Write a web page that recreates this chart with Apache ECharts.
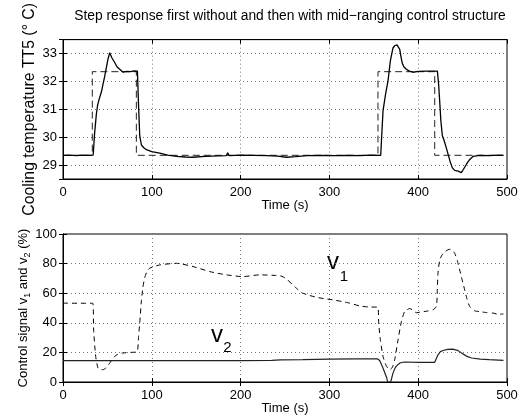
<!DOCTYPE html>
<html>
<head>
<meta charset="utf-8">
<script src="https://cdn.jsdelivr.net/npm/echarts@6/dist/echarts.min.js"></script>
<style>
    html, body { margin: 0; padding: 0; background: #fff; }
    #chart { width: 526px; height: 417px; }
</style>
</head>
<body>
<div id="chart"></div>
<script>
// time ticks shared by both plots
const timeTicks = [0, 100, 200, 300, 400, 500];

// upper plot: set point (dashed) and measured cooling temperature TT5
const setPoint = [
    [0, 29.35], [33, 29.35], [33, 32.35], [82.6, 32.35], [82.6, 29.35],
    [354.7, 29.35], [354.7, 32.35], [418.6, 32.35], [418.6, 29.35], [496, 29.35]
];
const temperature = [
    [0, 29.35], [8, 29.36], [15, 29.34], [22, 29.36], [30, 29.35], [34, 29.36],
    [35.5, 30.1], [37.6, 30.84], [39, 31.15], [40.5, 31.34], [43.2, 31.62], [47, 32.19],
    [50.7, 32.81], [52.6, 33.03], [55, 32.85], [58.2, 32.68], [61, 32.52], [63.9, 32.44],
    [67.6, 32.33], [72, 32.36], [76, 32.35], [80, 32.38], [83.8, 32.37], [85, 31.2],
    [86.4, 30.06], [88.3, 29.72], [91, 29.62], [93.9, 29.55], [100, 29.48], [108.9, 29.43],
    [118, 29.36], [127.7, 29.31], [138, 29.29], [146, 29.28], [160, 29.31], [175, 29.33],
    [184, 29.34], [185.5, 29.44], [187, 29.34], [200, 29.36], [215, 29.35], [230, 29.34],
    [242, 29.32], [251.5, 29.28], [262, 29.3], [275, 29.34], [290, 29.35], [304, 29.34],
    [305.5, 29.4], [307, 29.34], [320, 29.35], [335, 29.34], [345, 29.36], [357.8, 29.35],
    [358.5, 29.8], [360.4, 30.95], [363.4, 31.57], [366, 32.02], [368.7, 32.75], [371.6, 33.2],
    [373.5, 33.28], [376.1, 33.31], [378, 33.26], [379.2, 33.15], [380.5, 32.9], [382.2, 32.64],
    [384, 32.52], [386.7, 32.44], [390, 32.37], [394.1, 32.33], [400, 32.36], [410, 32.37],
    [421.6, 32.37], [423, 31.9], [424.2, 31.29], [425.5, 30.6], [427.2, 30.05], [429, 29.9],
    [431.8, 29.6], [436.3, 29.09], [438.5, 28.9], [441.1, 28.81], [445, 28.78], [448.6, 28.73],
    [451, 28.85], [454.3, 29.03], [458, 29.2], [461.7, 29.31], [469.3, 29.35], [480, 29.34],
    [490, 29.36], [496, 29.35]
];

// lower plot: control signals v1 (dashed) and v2 (solid)
const v1 = [
    [0, 53.3], [20, 53.2], [33.5, 53.2], [34.5, 35], [36.8, 17.3], [39.4, 9.4], [42, 8.4],
    [45, 8.3], [49, 9.8], [52.6, 12.8], [58.2, 17.3], [62, 18.8], [67.6, 19.6], [76, 20],
    [83.5, 20.6], [85, 30], [86.4, 39.8], [88.3, 55], [90, 64], [92, 70.5], [94.5, 74.5],
    [97.6, 76.9], [108.9, 79.1], [127.7, 80.2], [146.4, 78], [165.2, 74.6], [184, 72.4],
    [202.7, 71.2], [221.5, 72.4], [240, 72], [244, 71.9], [248, 71], [253, 69], [258, 66],
    [262.8, 63.4], [268.5, 60.4], [276, 58.8], [285, 57.3], [295, 56.2], [304, 55.5],
    [314, 54.4], [322.8, 53.3], [334, 51.4], [344, 50.7], [354.5, 50.5], [355.5, 40],
    [357.4, 28.5], [360.4, 17.3], [364, 11], [367.9, 8.3], [371, 10], [373.5, 15],
    [377.3, 28.5], [381.1, 40.9], [384.8, 47.6], [390.4, 49.6], [394, 48.7], [398, 46.8],
    [402, 47.2], [410, 47.9], [416.7, 48.8], [420.5, 51], [421.5, 62], [422.3, 73.5],
    [424.2, 82.5], [427, 86], [429.8, 88], [435.5, 89.7], [438, 89.2], [441.1, 87], [444, 82],
    [446.7, 75.7], [449.5, 69], [452.4, 62.2], [455, 56], [458, 51], [463.6, 48.1],
    [470, 47.5], [476.8, 46.9], [485, 46.5], [490, 45.7], [496, 46]
];
const v2 = [
    [0, 14.5], [100, 14.5], [200, 14.5], [235, 14.6], [245, 15], [270, 15.1], [300, 15.4],
    [330, 15.6], [354, 15.7], [356.6, 14.5], [360, 10], [364.6, 2.7], [365.5, 0], [369, 0],
    [371.6, 6], [374, 9.5], [377, 11.7], [380, 13], [384.5, 13.5], [400, 13.2], [418.6, 13.3],
    [420.5, 13.5], [422.3, 18.4], [425, 20.5], [428, 21.3], [433, 22], [439, 22.2], [445, 21.2],
    [450.4, 19], [455, 17.3], [460, 16.2], [470, 15.5], [480, 15.1], [496, 14.6]
];

const FONT = 'Liberation Sans';
const INK = '#000';

function xAxisFor(grid, pos, withLabels) {
    return {
        type: 'value', gridIndex: grid, position: pos,
        min: timeTicks[0], max: timeTicks[timeTicks.length - 1], interval: 100,
        name: withLabels ? 'Time (s)' : '',
        nameLocation: 'middle', nameGap: 20, nameMoveOverlap: false,
        nameTextStyle: { fontFamily: FONT, fontSize: 13, color: INK },
        axisLine: { show: true, lineStyle: { color: INK, width: 1 } },
        axisTick: { show: true, inside: true, length: 4, lineStyle: { color: INK } },
        axisLabel: { show: withLabels, margin: 7, fontFamily: FONT, fontSize: 13, color: INK },
        splitLine: { show: withLabels, lineStyle: { color: '#777', type: [1, 3] } }
    };
}

function yAxisFor(grid, pos, withLabels, extra) {
    return Object.assign({
        type: 'value', gridIndex: grid, position: pos,
        nameLocation: 'middle', nameMoveOverlap: false,
        axisLine: { show: true, lineStyle: { color: INK, width: 1 } },
        axisTick: { show: true, inside: true, length: 4, lineStyle: { color: INK } },
        axisLabel: { show: withLabels, margin: 6, fontFamily: FONT, fontSize: 13, color: INK,
                     showMinLabel: false, showMaxLabel: false },
        splitLine: { show: withLabels, lineStyle: { color: '#777', type: [1, 3] } }
    }, extra);
}

const tempAxis = { min: 28.5, max: 33.5, splitNumber: 5 };
const ctrlAxis = { min: 0, max: 100, interval: 20 };

let chart = echarts.init(document.getElementById('chart'), null, { renderer: 'canvas' });
chart.setOption({
    animation: false,
    backgroundColor: '#fff',
    title: {
        text: 'Step response first without and then with mid\u2212ranging control structure',
        left: 285, top: 4, textAlign: 'center',
        textStyle: { fontFamily: FONT, fontSize: 13.8, fontWeight: 'normal', color: INK }
    },
    grid: [
        { left: 63, top: 31, width: 444, height: 148, show: true, borderColor: INK, borderWidth: 1 },
        { left: 63, top: 234, width: 444, height: 148, show: true, borderColor: INK, borderWidth: 1 }
    ],
    xAxis: [
        xAxisFor(0, 'bottom', true), xAxisFor(0, 'top', false),
        xAxisFor(1, 'bottom', true), xAxisFor(1, 'top', false)
    ],
    yAxis: [
        yAxisFor(0, 'left', true, Object.assign({
            name: 'Cooling temperature TT5 (\u00b0 C)', nameGap: 25,
            nameTextStyle: { fontFamily: FONT, fontSize: 15.8, color: INK }
        }, tempAxis)),
        yAxisFor(0, 'right', false, Object.assign({}, tempAxis)),
        yAxisFor(1, 'left', true, Object.assign({
            name: '{a|Control signal v}{s|1}{a| and v}{s|2}{a| (%)}', nameGap: 31,
            nameTextStyle: {
                fontFamily: FONT, fontSize: 13, color: INK,
                rich: {
                    a: { fontFamily: FONT, fontSize: 13, color: INK, lineHeight: 18, verticalAlign: 'middle' },
                    s: { fontFamily: FONT, fontSize: 9, color: INK, lineHeight: 11, verticalAlign: 'bottom' }
                }
            },
            axisLabel: { show: true, margin: 6, fontFamily: FONT, fontSize: 13, color: INK }
        }, ctrlAxis)),
        yAxisFor(1, 'right', false, Object.assign({}, ctrlAxis))
    ],
    series: [
        {
            name: 'set point', type: 'line', xAxisIndex: 0, yAxisIndex: 0, data: setPoint,
            showSymbol: false, lineStyle: { color: '#222', width: 1, type: [7, 4] }
        },
        {
            name: 'TT5', type: 'line', xAxisIndex: 0, yAxisIndex: 0, data: temperature,
            showSymbol: false, lineStyle: { color: INK, width: 1.3 }
        },
        {
            name: 'v1', type: 'line', xAxisIndex: 2, yAxisIndex: 2, data: v1,
            showSymbol: false, smooth: 0.2, lineStyle: { color: INK, width: 1, type: [5, 4] }
        },
        {
            name: 'v2', type: 'line', xAxisIndex: 2, yAxisIndex: 2, data: v2,
            showSymbol: false, lineStyle: { color: '#222', width: 1.2 }
        }
    ],
    graphic: [
        { type: 'text', x: 333, y: 262, style: { text: 'v', font: '24px ' + FONT, fill: INK, align: 'center', verticalAlign: 'middle' } },
        { type: 'text', x: 344, y: 277, style: { text: '1', font: '15px ' + FONT, fill: INK, align: 'center', verticalAlign: 'middle' } },
        { type: 'text', x: 217, y: 335, style: { text: 'v', font: '24px ' + FONT, fill: INK, align: 'center', verticalAlign: 'middle' } },
        { type: 'text', x: 227.5, y: 348, style: { text: '2', font: '15px ' + FONT, fill: INK, align: 'center', verticalAlign: 'middle' } }
    ]
});
</script>
</body>
</html>
